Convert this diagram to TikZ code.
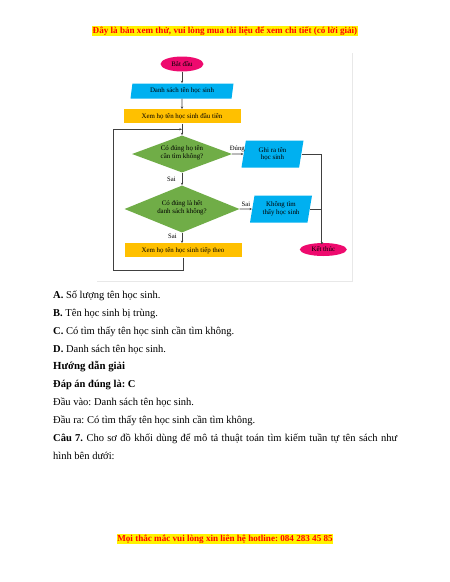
\documentclass[tikz,border=0pt]{standalone}
\usepackage{fontspec}
\setmainfont{Liberation Serif}
\usetikzlibrary{shapes.geometric,arrows.meta}
\frenchspacing
\definecolor{cpink}{HTML}{EE0A6E}
\definecolor{ccyan}{HTML}{00B0F0}
\definecolor{cgold}{HTML}{FFC000}
\definecolor{cgreen}{HTML}{70AD47}
\definecolor{cline}{HTML}{404040}
\definecolor{hred}{HTML}{FF0000}
\newcommand{\zbox}[1]{\makebox[0pt]{\raisebox{-0.5pt}[0pt][0pt]{\begin{tabular}{@{}c@{}}#1\end{tabular}}}}
\tikzset{
  fc/.style={font=\fontsize{6.9}{7.6}\selectfont, align=center, inner sep=0pt},
  term/.style={fc, ellipse, fill=cpink},
  io/.style={fc, trapezium, trapezium left angle=72, trapezium right angle=108, trapezium stretches body, fill=ccyan},
  proc/.style={fc, rectangle, fill=cgold},
  dec/.style={fc, diamond, fill=cgreen},
  conn/.style={draw=cline, line width=0.6pt},
  arr/.style={conn, -{Stealth[length=2.6pt,width=2.2pt]}},
  lab/.style={font=\fontsize{6.7}{7}\selectfont, inner sep=0pt},
  body/.style={anchor=base west, inner sep=0pt, font=\fontsize{10.5}{12}\selectfont\frenchspacing},
  banner/.style={fill=yellow, text=hred, inner sep=0.6pt, font=\fontsize{9.1}{10}\selectfont\bfseries},
}
\begin{document}
\begin{tikzpicture}[x=1pt,y=-1pt]
\useasboundingbox (0,0) rectangle (450,582);
\fill[white] (0,0) rectangle (450,582);
% header / footer
\node[banner] (hdr) at (225,31) {Đây là bản xem thử, vui lòng mua tài liệu để xem chi tiết (có lời giải)};
\node[banner] (ftr) at (225,539) {Mọi thắc mắc vui lòng xin liên hệ hotline: 084 283 45 85};
% frame shadow
\draw[gray!18, line width=0.8pt] (97,281) -- (352,281) -- (352,53);
% flowchart
\node[term, minimum width=43pt, minimum height=15pt] (start) at (182,64) {Bắt đầu};
\node[io, minimum width=103pt, minimum height=15pt] (inp) at (182,91) {Danh sách tên học sinh};
\node[proc, minimum width=117pt, minimum height=14pt] (r1) at (182,116.3) {Xem họ tên học sinh đầu tiên};
\node[dec, minimum width=100pt, minimum height=37pt] (d1) at (182,154) {\zbox{Có đúng họ tên\\cần tìm không?}};
\node[io, minimum width=62pt, minimum height=27pt] (o1) at (272.5,154) {Ghi ra tên\\học sinh};
\node[dec, minimum width=115pt, minimum height=47pt] (d2) at (182,209) {\zbox{Có đúng là hết\\danh sách không?}};
\node[io, minimum width=62pt, minimum height=27pt] (o2) at (281,209) {Không tìm\\thấy học sinh};
\node[proc, minimum width=117pt, minimum height=14pt] (r2) at (183,250.3) {Xem họ tên học sinh tiếp theo};
\node[term, minimum width=47pt, minimum height=13pt] (end) at (323.3,249.5) {Kết thúc};
\coordinate (j) at (182,129.3);
\coordinate (jx) at (321.7,0);
% connectors
\draw[arr] (start) -- (inp);
\draw[arr] (inp) -- (r1);
\draw[arr] (r1) -- (d1);
\draw[arr] (d1) -- (o1) node[lab, pos=0.45, above=2pt] (lt) {Đúng};
\draw[arr] (d1) -- (d2) node[lab, pos=0.5, left=6pt] (ls1) {Sai};
\draw[arr] (d2) -- (o2) node[lab, pos=0.5, above=2pt] (ls2) {Sai};
\draw[arr] (d2.south) -- (d2.south |- r2.north) node[lab, pos=0.35, left=5pt] (ls3) {Sai};
\draw[arr] (r2.south) -- ++(0,12.7) -| (113.3,129.3) -- (j);
\draw[arr] (o1.east) -- (jx |- o1.east) -- (jx |- end.north) -- (end.north);
\draw[conn] (o2.east) -- (jx |- o2.east);
% body text
\node[body] (a) at (53,298) {\textbf{A.} Số lượng tên học sinh.};
\node[body] (b) at (53,316) {\textbf{B.} Tên học sinh bị trùng.};
\node[body] (c) at (53,334) {\textbf{C.} Có tìm thấy tên học sinh cần tìm không.};
\node[body] (d) at (53,352) {\textbf{D.} Danh sách tên học sinh.};
\node[body, font=\fontsize{10.8}{12}\selectfont\bfseries] (h) at (53,369.5) {Hướng dẫn giải};
\node[body, font=\fontsize{10.5}{12}\selectfont\bfseries\frenchspacing] (ans) at (53,387) {Đáp án đúng là: C};
\node[body] (in) at (53,405) {Đầu vào: Danh sách tên học sinh.};
\node[body] (out) at (53,423) {Đầu ra: Có tìm thấy tên học sinh cần tìm không.};
\node[body, anchor=north west, text width=344pt, align=justify, font=\fontsize{10.5}{18}\selectfont\frenchspacing] (q) at (53,433.5) {\textbf{Câu 7.} Cho sơ đồ khối dùng để mô tả thuật toán tìm kiếm tuần tự tên sách như\linebreak hình bên dưới:};
\end{tikzpicture}
\end{document}
